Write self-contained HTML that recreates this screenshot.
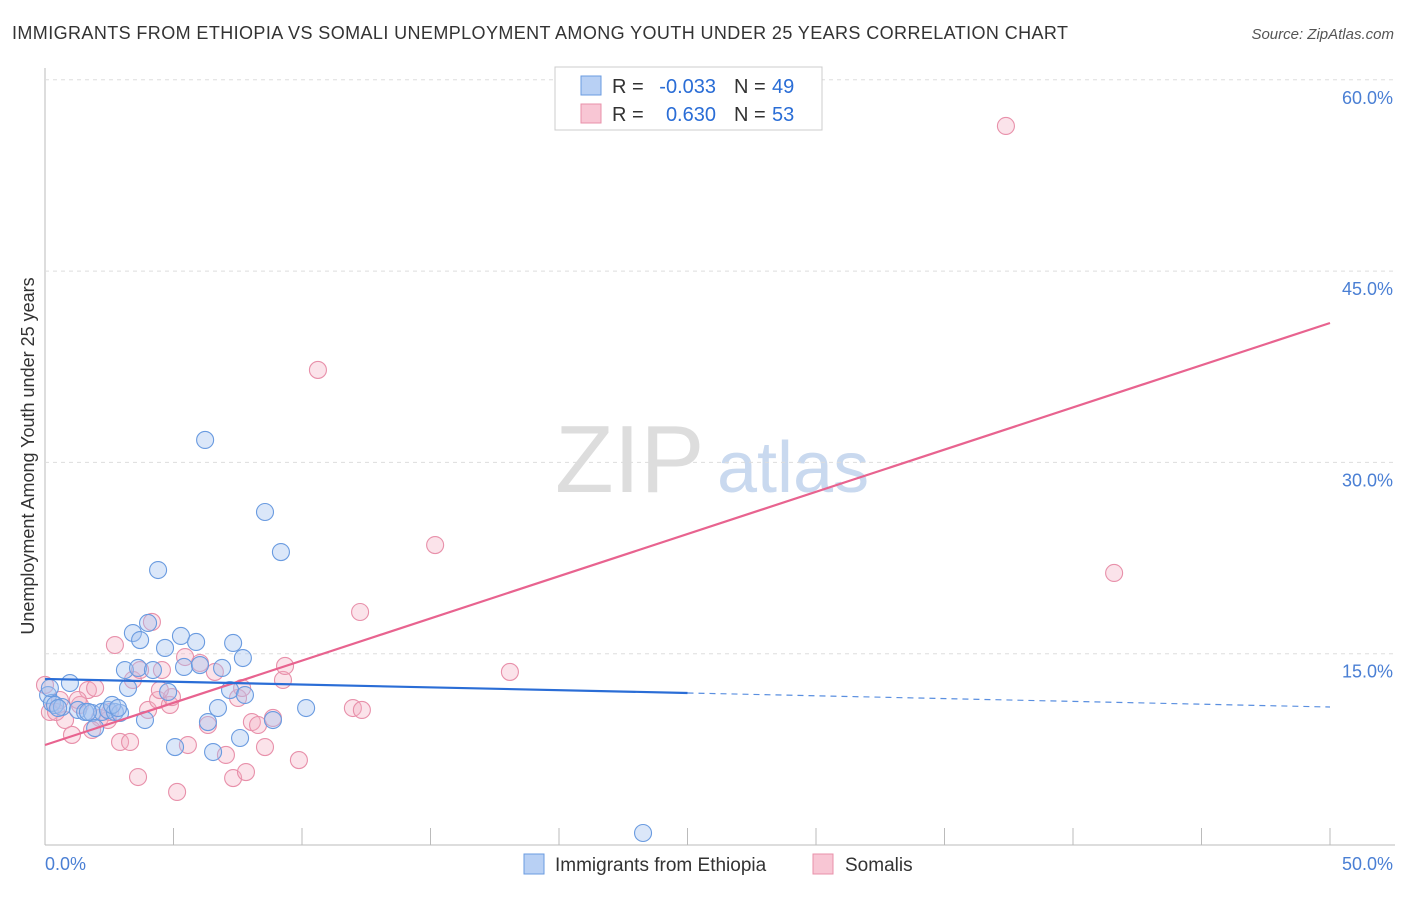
<!DOCTYPE html>
<html><head><meta charset="utf-8"><style>
body{margin:0;background:#fff;font-family:"Liberation Sans",sans-serif;}
svg text{font-family:"Liberation Sans",sans-serif;}
</style></head><body>
<svg id="c" width="1406" height="892">
<text x="12" y="39" font-size="18" fill="#333" textLength="1056" lengthAdjust="spacing">IMMIGRANTS FROM ETHIOPIA VS SOMALI UNEMPLOYMENT AMONG YOUTH UNDER 25 YEARS CORRELATION CHART</text>
<text x="1394" y="39" font-size="15" fill="#555" font-style="italic" text-anchor="end">Source: ZipAtlas.com</text>
<text x="34" y="456" font-size="18" fill="#333" text-anchor="middle" transform="rotate(-90 34 456)">Unemployment Among Youth under 25 years</text>
<text x="555" y="492" font-size="96" fill="#ddd" font-family="Liberation Serif">ZIP</text>
<text x="717" y="492" font-size="72" fill="#c9d9ef">atlas</text>
<g id="grid"></g><g id="pts"></g><g id="lines"></g>
<g>
<rect x="555" y="67" width="267" height="63" fill="#fff" stroke="#ccc"/>
<rect x="581" y="76" width="20" height="19" fill="#b8d0f4" stroke="#6a9be0"/>
<rect x="581" y="104" width="20" height="19" fill="#f8c6d4" stroke="#e890aa"/>
<text x="612" y="93" font-size="20" fill="#333">R =</text>
<text x="716" y="93" font-size="20" fill="#2a6dd6" text-anchor="end">-0.033</text>
<text x="734" y="93" font-size="20" fill="#333">N =</text>
<text x="772" y="93" font-size="20" fill="#2a6dd6">49</text>
<text x="612" y="121" font-size="20" fill="#333">R =</text>
<text x="716" y="121" font-size="20" fill="#2a6dd6" text-anchor="end">0.630</text>
<text x="734" y="121" font-size="20" fill="#333">N =</text>
<text x="772" y="121" font-size="20" fill="#2a6dd6">53</text>
</g>
<g>
<rect x="524" y="854" width="20" height="20" fill="#b8d0f4" stroke="#6a9be0"/>
<text x="555" y="871" font-size="19" fill="#333">Immigrants from Ethiopia</text>
<rect x="813" y="854" width="20" height="20" fill="#f8c6d4" stroke="#e890aa"/>
<text x="845" y="871" font-size="19" fill="#333">Somalis</text>
</g>
</svg>
<script>
const yTicks=[15,30,45,60];
const yTickLabels=["15.0%","30.0%","45.0%","60.0%"];
const xTicks=[0,5,10,15,20,25,30,35,40,45,50];
const blueX=[.12,.27,.39,.66,.97,1.28,1.56,1.83,1.95,2.22,2.45,2.72,2.92,3.11,3.23,3.42,3.62,3.70,3.89,4.01,4.20,4.40,4.67,4.79,5.06,5.29,5.41,5.88,6.03,6.23,6.34,6.54,6.73,6.89,7.20,7.32,7.59,7.70,7.78,8.56,8.87,9.18,10.16,23.27,.51,1.67,2.61,.19,2.84];
const blueY=[11.76,11.14,10.98,10.82,12.70,10.59,10.43,10.35,9.17,10.43,10.59,10.43,10.35,13.72,12.31,16.62,13.88,16.07,9.80,17.41,13.72,21.56,15.45,12.00,7.68,16.39,13.96,15.92,14.11,31.76,9.64,7.29,10.74,13.88,12.15,15.84,8.39,14.66,11.76,26.11,9.80,22.97,10.74,0.94,10.74,10.43,10.98,12.31,10.74];
const pinkX=[0,.19,.58,.78,1.05,1.36,1.67,1.95,2.14,2.45,2.72,2.92,3.31,3.42,3.62,3.70,4.01,4.16,4.40,4.55,4.86,4.94,5.14,5.45,5.56,6.03,6.34,6.61,7.04,7.32,7.51,7.67,7.82,8.05,8.29,8.56,8.87,9.26,9.34,9.88,10.62,11.98,12.26,12.33,15.18,18.09,37.39,41.60,.43,1.28,1.83,2.53,4.47];
const pinkY=[12.55,10.43,11.37,9.80,8.63,10.98,12.15,12.31,9.96,9.80,15.68,8.08,8.08,12.94,5.33,13.72,10.59,17.49,11.37,13.72,10.98,11.60,4.16,14.74,7.84,14.27,9.41,13.57,7.06,5.25,11.53,12.31,5.72,9.64,9.41,7.68,9.96,12.94,14.04,6.66,37.25,10.74,18.27,10.59,23.52,13.57,56.38,21.33,10.43,11.37,9.02,10.43,12.15];
const pinkTrend=[7.84,40.93];
const blueTrend=[13.02,10.82];
const blueSolidEnd=25;
const X=v=>45+v*1285/50, Y=v=>845-v*191.3/15;
const NS="http://www.w3.org/2000/svg";
function mk(tag,attrs,parent){const e=document.createElementNS(NS,tag);for(const k in attrs)e.setAttribute(k,attrs[k]);parent.appendChild(e);return e;}
const grid=document.getElementById('grid');
const ax=mk('line',{x1:45,y1:68,x2:45,y2:845,stroke:'#bbb'},grid);


const bx=mk('line',{x1:45,y1:845,x2:1395,y2:845,stroke:'#bbb'},grid);


yTicks.forEach((t,i)=>{
 const g=mk('line',{x1:45,y1:Y(t),x2:1395,y2:Y(t),stroke:'#ddd','stroke-dasharray':'4,4'},grid);
 
 
 const l=mk('text',{x:1393,y:Y(t)+24,'font-size':18,fill:'#4a7fd4','text-anchor':'end'},grid);
 l.textContent=yTickLabels[i];
 
 
});
xTicks.forEach(t=>{
 const k=mk('line',{x1:X(t),y1:828,x2:X(t),y2:845,stroke:'#bbb'},grid);
 
 
});
const xl0=mk('text',{x:45,y:870,'font-size':18,fill:'#4a7fd4'},grid);xl0.textContent='0.0%';


const xl1=mk('text',{x:1393,y:870,'font-size':18,fill:'#4a7fd4','text-anchor':'end'},grid);xl1.textContent='50.0%';


const pts=document.getElementById('pts');
pinkX.forEach((x,i)=>{const c=mk('circle',{cx:X(x),cy:Y(pinkY[i]),r:8.5,fill:'rgba(244,174,196,0.35)',stroke:'#e890aa','stroke-width':1.1},pts);
 
 });
blueX.forEach((x,i)=>{const c=mk('circle',{cx:X(x),cy:Y(blueY[i]),r:8.5,fill:'rgba(164,196,240,0.4)',stroke:'#6a9be0','stroke-width':1.1},pts);
 
 });
const lines=document.getElementById('lines');
const pl=mk('line',{x1:X(0),y1:Y(pinkTrend[0]),x2:X(50),y2:Y(pinkTrend[1]),stroke:'#e8638f','stroke-width':2.2},lines);


const bm=blueTrend[0]+(blueTrend[1]-blueTrend[0])*blueSolidEnd/50;
const bl=mk('line',{x1:X(0),y1:Y(blueTrend[0]),x2:X(blueSolidEnd),y2:Y(bm),stroke:'#2a6dd6','stroke-width':2.2},lines);


const bd=mk('line',{x1:X(blueSolidEnd),y1:Y(bm),x2:X(50),y2:Y(blueTrend[1]),stroke:'#5a8fe0','stroke-width':1.2,'stroke-dasharray':'6,5'},lines);


</script>
</body></html>
